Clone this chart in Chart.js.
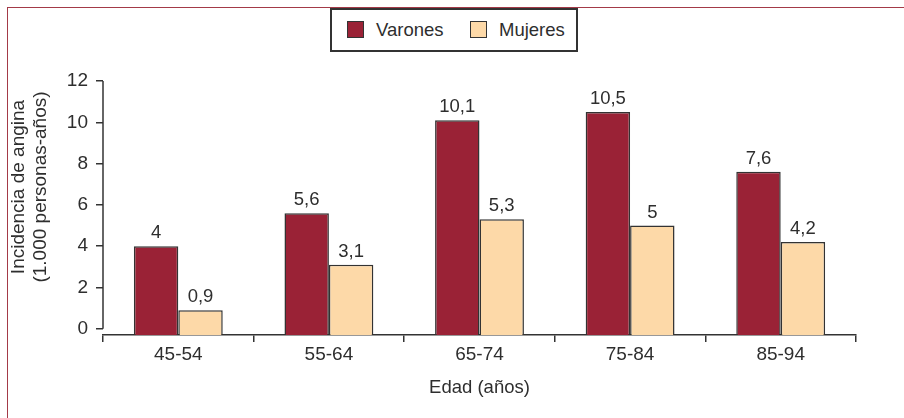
<!DOCTYPE html>
<html lang="es">
<head>
<meta charset="utf-8">
<script src="https://cdn.jsdelivr.net/npm/chart.js@4/dist/chart.umd.min.js"></script>
<style>
  html, body { margin: 0; padding: 0; background: #fff; }
  #lienzo { position: relative; width: 904px; height: 418px; overflow: hidden; }
  #marco {
    position: absolute; left: 7px; top: 7px; right: -5px; bottom: -5px;
    border-top: 1px solid #a33a48; border-left: 1px solid #a33a48;
  }
  #grafico { position: absolute; left: 0; top: 0; }
  #leyenda {
    position: absolute; left: 330px; top: 8px; width: 248px; height: 44px;
    box-sizing: border-box; border: 2px solid #333; background: #fff;
  }
  .item {
    position: absolute; top: 10px; height: 19px; display: flex; align-items: center;
    font: 18.5px 'Liberation Sans', Arial, sans-serif; color: #2e2e2e;
  }
  .caja { width: 17px; height: 17px; box-sizing: border-box; border: 1.5px solid #333; margin-right: 12px; }
</style>
</head>
<body>
<div id="lienzo">
  <div id="marco"></div>
  <canvas id="grafico" width="904" height="418"></canvas>
  <div id="leyenda"></div>
</div>
<script>
/* ── Datos ─────────────────────────────────────────────── */
const categorias = ['45-54', '55-64', '65-74', '75-84', '85-94'];
const series     = ['Varones', 'Mujeres'];
const varones    = [4, 5.6, 10.1, 10.5, 7.6];
const mujeres    = [0.9, 3.1, 5.3, 5, 4.2];
const ticksY     = [0, 2, 4, 6, 8, 10, 12];
const tituloY    = ['Incidencia de angina', '(1.000 personas-años)'];
const tituloX    = 'Edad (años)';

const colores = ['#9a2236', '#fdd9a8'];
const FUENTE  = "'Liberation Sans', Arial, sans-serif";
const TEXTO   = '#2e2e2e';
const BASE_Y  = -0.3;   // las barras arrancan en el eje X, algo por debajo del 0

const formatear = v => String(v).replace('.', ',');

/* ── Leyenda en HTML ───────────────────────────────────── */
const posLeyenda = [17, 140];
series.forEach((nombre, i) => {
  const el = document.createElement('div');
  el.className = 'item';
  el.style.left = (posLeyenda[i] - 2) + 'px';
  el.innerHTML = `<span class="caja" style="background:${colores[i]}"></span>${nombre}`;
  document.getElementById('leyenda').appendChild(el);
});

/* ── Plugins propios ───────────────────────────────────── */
const etiquetas = {
  id: 'etiquetas',
  afterDatasetsDraw(chart) {
    const ctx = chart.ctx;
    ctx.save();
    ctx.font = `18.5px ${FUENTE}`;
    ctx.fillStyle = TEXTO;
    ctx.textAlign = 'center';
    ctx.textBaseline = 'alphabetic';
    chart.data.datasets.forEach((ds, i) => {
      chart.getDatasetMeta(i).data.forEach((barra, j) => {
        ctx.fillText(formatear(ds.data[j]), barra.x, barra.y - 8);
      });
    });
    ctx.restore();
  }
};

const ejeY = {
  id: 'ejeY',
  afterDraw(chart) {
    const { ctx, chartArea } = chart;
    const y = chart.scales.y;
    ctx.save();
    // línea del eje Y solo entre 0 y 12
    ctx.strokeStyle = '#333';
    ctx.lineWidth = 1.5;
    ctx.beginPath();
    ctx.moveTo(chartArea.left, y.getPixelForValue(ticksY[ticksY.length - 1]));
    ctx.lineTo(chartArea.left, y.getPixelForValue(ticksY[0]));
    ctx.stroke();
    // título del eje Y en dos líneas
    ctx.font = `19px ${FUENTE}`;
    ctx.fillStyle = TEXTO;
    ctx.textAlign = 'center';
    ctx.textBaseline = 'middle';
    ctx.translate(29.5, 187);
    ctx.rotate(-Math.PI / 2);
    ctx.fillText(tituloY[0], 0, -11);
    ctx.fillText(tituloY[1], 0, 11);
    ctx.restore();
  }
};

/* ── Gráfico ───────────────────────────────────────────── */
new Chart(document.getElementById('grafico'), {
  type: 'bar',
  data: {
    labels: categorias,
    datasets: [varones, mujeres].map((d, i) => ({
      label: series[i],
      data: d,
      base: BASE_Y,
      backgroundColor: colores[i],
      borderColor: '#333',
      borderWidth: 1.5,
      categoryPercentage: 0.59,
      barPercentage: 1,
    }))
  },
  options: {
    responsive: false,
    animation: false,
    layout: { padding: { top: 81, right: 48, left: 0, bottom: 0 } },
    plugins: {
      legend: { display: false },
      tooltip: { enabled: false },
    },
    scales: {
      x: {
        offset: true,
        afterFit: s => { s.height = 83; },
        border: { display: true, color: '#333', width: 1.5 },
        grid: { display: true, drawOnChartArea: false, tickLength: 7, color: '#333', lineWidth: 1.5, offset: true },
        ticks: { color: TEXTO, font: { family: FUENTE, size: 19 }, padding: 1 },
        title: { display: true, text: tituloX, color: TEXTO, font: { family: FUENTE, size: 18.5 }, padding: { top: 0, bottom: 19 } },
      },
      y: {
        min: BASE_Y,
        max: 12,
        afterFit: s => { s.width = 103; },
        afterBuildTicks: s => { s.ticks = ticksY.map(v => ({ value: v })); },
        border: { display: false },
        grid: { display: true, drawOnChartArea: false, tickLength: 7, color: '#333', lineWidth: 1.5 },
        ticks: { color: TEXTO, font: { family: FUENTE, size: 19 }, padding: 8 },
      }
    }
  },
  plugins: [etiquetas, ejeY]
});
</script>
</body>
</html>
